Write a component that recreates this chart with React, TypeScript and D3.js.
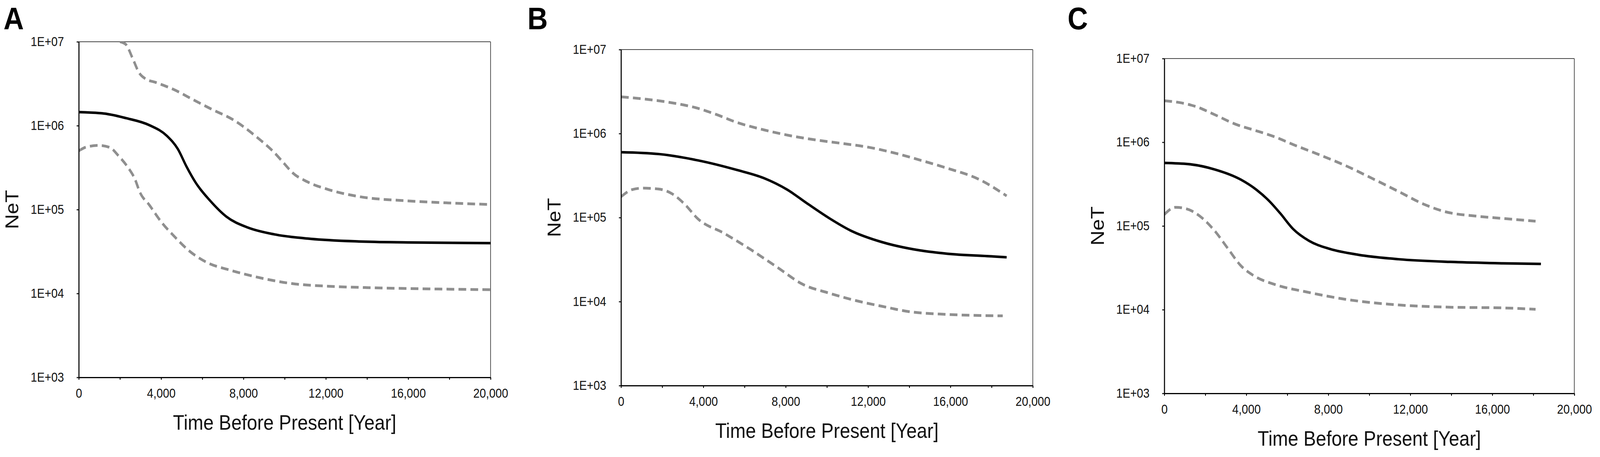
import React, { useEffect, useRef } from 'react';
import * as d3 from 'd3';

// Axis ticks shared by all three panels
const Y_TICKS = [1e3, 1e4, 1e5, 1e6, 1e7];
const Y_TICK_LABELS = ['1E+03', '1E+04', '1E+05', '1E+06', '1E+07'];
const X_LABEL_TICKS = [0, 4000, 8000, 12000, 16000, 20000];
const X_MINOR_TICKS = [0, 2000, 4000, 6000, 8000, 10000, 12000, 14000, 16000, 18000, 20000];

// Panel A
const aMeanYears = [0, 1240, 2290, 3420, 4290, 4810, 5240, 5680, 6380, 7170, 8210, 9510, 11260, 13600, 16000, 20000];
const aMeanNe = [1.449e6, 1.393e6, 1.23e6, 1.016e6, 7.52e5, 5.28e5, 3.23e5, 2.09e5, 1.276e5, 8.24e4, 6.11e4, 5.06e4, 4.48e4, 4.17e4, 4.06e4, 3.98e4];
const aUpperYears = [2000, 2280, 2620, 2930, 3230, 3750, 4620, 5590, 6420, 7500, 8640, 9510, 9950, 10380, 11090, 12130, 13600, 15970, 17930, 20000];
const aUpperNe = [1.0e7, 9.33e6, 6.31e6, 4.27e6, 3.63e6, 3.27e6, 2.69e6, 2.02e6, 1.585e6, 1.175e6, 7.33e5, 4.74e5, 3.6e5, 2.75e5, 2.15e5, 1.73e5, 1.43e5, 1.27e5, 1.2e5, 1.15e5];
const aLowerYears = [0, 370, 980, 1500, 1930, 2370, 2720, 2980, 3420, 4030, 4640, 5330, 6200, 7340, 8640, 10380, 12130, 14000, 17000, 20000];
const aLowerNe = [5.01e5, 5.57e5, 5.82e5, 5.51e5, 4.37e5, 3.23e5, 2.33e5, 1.585e5, 1.14e5, 7.01e4, 4.79e4, 3.27e4, 2.36e4, 1.9e4, 1.57e4, 1.31e4, 1.22e4, 1.175e4, 1.135e4, 1.11e4];

// Panel B
const bMeanYears = [0, 1810, 3730, 5640, 6920, 8070, 9090, 10110, 11140, 12670, 14200, 15860, 17780, 18730];
const bMeanNe = [6.0e5, 5.71e5, 4.8e5, 3.68e5, 2.96e5, 2.15e5, 1.445e5, 9.84e4, 7.03e4, 5.11e4, 4.19e4, 3.71e4, 3.48e4, 3.37e4];
const bUpperYears = [0, 1180, 2450, 3730, 4620, 5640, 6920, 8200, 9480, 10750, 12030, 13310, 14580, 15860, 17390, 18730];
const bUpperNe = [2.74e6, 2.57e6, 2.33e6, 2.0e6, 1.69e6, 1.355e6, 1.11e6, 9.46e5, 8.39e5, 7.62e5, 6.87e5, 5.85e5, 4.79e5, 3.86e5, 2.85e5, 1.81e5];
const bLowerYears = [0, 540, 1050, 1810, 2450, 3090, 3730, 5010, 6280, 7560, 8840, 10110, 11390, 12670, 13950, 15860, 18540];
const bLowerNe = [1.77e5, 2.15e5, 2.24e5, 2.19e5, 1.94e5, 1.445e5, 9.68e4, 6.49e4, 4.19e4, 2.59e4, 1.6e4, 1.26e4, 1.03e4, 8.79e3, 7.62e3, 7.03e3, 6.76e3];

// Panel C
const cMeanYears = [0, 1180, 2450, 3730, 4500, 5140, 5650, 6290, 7060, 8080, 9480, 11400, 13960, 16510, 18370];
const cMeanNe = [5.66e5, 5.48e5, 4.74e5, 3.58e5, 2.7e5, 1.96e5, 1.42e5, 9.16e4, 6.64e4, 5.31e4, 4.52e4, 4.01e4, 3.72e4, 3.58e4, 3.52e4];
const cUpperYears = [0, 670, 1560, 2450, 3480, 4370, 5390, 6290, 7570, 8840, 10120, 11400, 12680, 13700, 15230, 16510, 18110];
const cUpperNe = [3.13e6, 3.0e6, 2.66e6, 2.14e6, 1.64e6, 1.4e6, 1.16e6, 9.38e5, 7.08e5, 5.26e5, 3.72e5, 2.6e5, 1.81e5, 1.48e5, 1.31e5, 1.23e5, 1.14e5];
const cLowerYears = [0, 540, 1050, 1820, 2450, 3090, 3730, 4370, 5390, 6930, 8840, 11400, 13960, 16510, 18110];
const cLowerNe = [1.37e5, 1.67e5, 1.61e5, 1.26e5, 8.79e4, 5.43e4, 3.36e4, 2.54e4, 2.0e4, 1.63e4, 1.33e4, 1.14e4, 1.07e4, 1.05e4, 1.01e4];

const PANEL_LETTERS = ['A', 'B', 'C'];
const X_TITLE = 'Time Before Present [Year]';
const Y_TITLE = 'NeT';

const WIDTH = 4550;
const HEIGHT = 1171;
const FONT = "'Liberation Sans', Arial, Helvetica, sans-serif";

type Pt = [number, number];
const zip = (xs: number[], ys: number[]): Pt[] => xs.map((t, i) => [t, ys[i]]);

const boxes = [
  { left: 224, right: 1395, top: 107, bottom: 967, letterX: 10 },
  { left: 1766, right: 2937, top: 127, bottom: 988, letterX: 1500 },
  { left: 3311, right: 4477, top: 150, bottom: 1008, letterX: 3036 },
];

const series = [
  { mean: zip(aMeanYears, aMeanNe), upper: zip(aUpperYears, aUpperNe), lower: zip(aLowerYears, aLowerNe) },
  { mean: zip(bMeanYears, bMeanNe), upper: zip(bUpperYears, bUpperNe), lower: zip(bLowerYears, bLowerNe) },
  { mean: zip(cMeanYears, cMeanNe), upper: zip(cUpperYears, cUpperNe), lower: zip(cLowerYears, cLowerNe) },
];

const App: React.FC = () => {
  const svgRef = useRef<SVGSVGElement>(null);

  useEffect(() => {
    document.body.style.margin = '0';
    document.body.style.overflow = 'hidden';
    if (!svgRef.current) return;
    const svg = d3.select(svgRef.current);
    svg.selectAll('*').remove();

    svg.append('rect')
      .attr('width', WIDTH).attr('height', HEIGHT)
      .attr('fill', '#fff');

    boxes.forEach((box, i) => {
      const x = d3.scaleLinear().domain([0, 20000]).range([box.left, box.right]);
      const y = d3.scaleLog().domain([1e3, 1e7]).range([box.bottom, box.top]);
      const g = svg.append('g');

      // clip so the upper bound stays inside the frame
      const clipId = `clip-${i}`;
      svg.append('defs').append('clipPath').attr('id', clipId)
        .append('rect')
        .attr('x', box.left).attr('y', box.top)
        .attr('width', box.right - box.left + 4)
        .attr('height', box.bottom - box.top);

      // frame top and right
      g.append('line')
        .attr('x1', box.left).attr('x2', box.right)
        .attr('y1', box.top).attr('y2', box.top)
        .attr('stroke', '#444').attr('stroke-width', 2);
      g.append('line')
        .attr('x1', box.right).attr('x2', box.right)
        .attr('y1', box.top).attr('y2', box.bottom)
        .attr('stroke', '#444').attr('stroke-width', 2);

      const line = d3.line<Pt>()
        .x(d => x(d[0]))
        .y(d => y(d[1]))
        .curve(d3.curveMonotoneX);

      const lines = g.append('g').attr('clip-path', `url(#${clipId})`);
      const s = series[i];
      [s.upper, s.lower].forEach(pts => {
        lines.append('path')
          .datum(pts)
          .attr('fill', 'none')
          .attr('stroke', '#8f8f8f')
          .attr('stroke-width', 7)
          .attr('stroke-dasharray', '22 12')
          .attr('d', line);
      });
      lines.append('path')
        .datum(s.mean)
        .attr('fill', 'none')
        .attr('stroke', '#000')
        .attr('stroke-width', 6.5)
        .attr('stroke-linejoin', 'round')
        .attr('d', line);

      // x axis
      const xAxis = g.append('g')
        .attr('transform', `translate(0,${box.bottom})`)
        .call(
          d3.axisBottom(x)
            .tickValues(X_MINOR_TICKS)
            .tickSize(6)
            .tickSizeOuter(0)
            .tickPadding(23)
            .tickFormat(d => (X_LABEL_TICKS.includes(d as number) ? d3.format(',')(d as number) : ''))
        );

      // y axis
      const yAxis = g.append('g')
        .attr('transform', `translate(${box.left},0)`)
        .call(
          d3.axisLeft(y)
            .tickValues(Y_TICKS)
            .tickSize(6)
            .tickSizeOuter(0)
            .tickPadding(36)
            .tickFormat((d, k) => Y_TICK_LABELS[k])
        );

      [xAxis, yAxis].forEach(ax => {
        ax.select('.domain').attr('stroke', '#000').attr('stroke-width', 3);
        ax.selectAll('.tick line').attr('stroke', '#000').attr('stroke-width', 2.5);
        ax.selectAll('.tick text')
          .attr('fill', '#111')
          .style('font-family', FONT)
          .style('font-size', '32.5px');
      });

      // axis titles
      g.append('text')
        .attr('x', (box.left + box.right) / 2)
        .attr('y', box.bottom + 134)
        .attr('text-anchor', 'middle')
        .style('font-family', FONT)
        .style('font-size', '53px')
        .attr('fill', '#111')
        .text(X_TITLE);

      g.append('text')
        .attr('transform', `translate(${box.left - 172},${(box.top + box.bottom) / 2}) rotate(-90)`)
        .attr('text-anchor', 'middle')
        .style('font-family', FONT)
        .style('font-size', '53px')
        .attr('fill', '#111')
        .text(Y_TITLE);

      // panel letter
      g.append('text')
        .attr('x', box.letterX)
        .attr('y', 75)
        .style('font-family', FONT)
        .style('font-size', '80px')
        .style('font-weight', 'bold')
        .attr('fill', '#000')
        .text(PANEL_LETTERS[i]);
    });
  }, []);

  // map the fixed 4550x1171 drawing onto the whole viewport
  return (
    <svg
      ref={svgRef}
      viewBox={`0 0 ${WIDTH} ${HEIGHT}`}
      preserveAspectRatio="none"
      style={{ display: 'block', width: '100vw', height: '100vh' }}
    />
  );
};

export default App;
